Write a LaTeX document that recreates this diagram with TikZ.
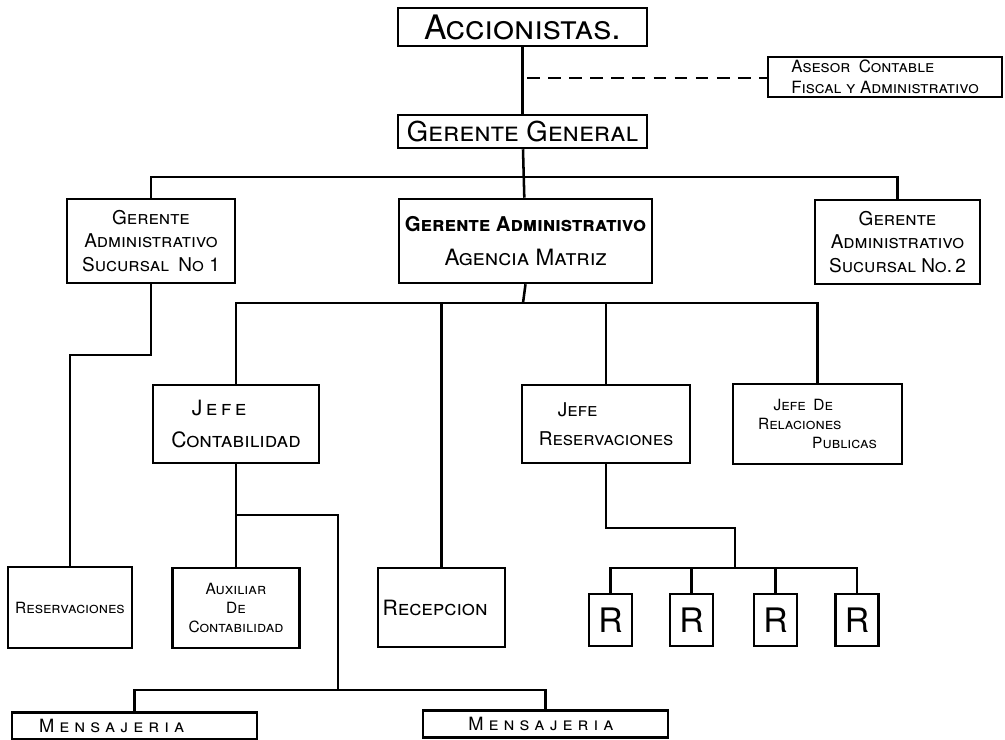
\documentclass[tikz,border=0pt]{standalone}
\usepackage{fontspec}
\setmainfont{TeX Gyre Heros}
\usetikzlibrary{positioning, calc}

\begin{document}
\begin{tikzpicture}[
    x=0.025cm, y=-0.025cm,
    line width=1.8pt,
    box/.style={draw, line width=1.8pt, align=center, inner sep=2pt},
    sz/.style 2 args={minimum width=#1*0.025cm, minimum height=#2*0.025cm},
    txt/.style={/utils/exec={\pgfmathsetmacro\lsk{#1*1.25}},
                font=\fontsize{#1}{\lsk}\selectfont\scshape},
    rbox/.style={box, sz={43}{52}, font=\fontsize{24}{26}\selectfont}
]
    \useasboundingbox (0,0) rectangle (1005,740);

    % Top
    \node[box, sz={249}{38}, txt=24, inner sep=0pt] (acc) at (522.5,27) {Accionistas.};
    \node[box, sz={249}{33}, txt=19.5, inner sep=0pt] (gg) at (522.5,131.5) {Gerente General};
    \node[box, sz={234}{40}, txt=12, align=left, inner sep=1pt] (asesor) at (885,77)
        {Asesor\enspace Contable\\Fiscal y Administrativo};

    % Gerentes administrativos
    \node[box, sz={168}{84}, txt=13.5] (suc1) at (151,241)
        {Gerente\\Administrativo\\Sucursal\enspace No 1};
    \node[box, sz={253}{84}, font=\scshape] (matriz) at (525.5,241)
        {{\fontsize{14.5}{16}\selectfont\bfseries Gerente Administrativo}\\[12pt]
         {\fontsize{16}{18}\selectfont Agencia Matriz}};
    \node[box, sz={165}{84}, txt=13.5] (suc2) at (897.5,242)
        {Gerente\\Administrativo\\Sucursal No.\,2};

    % Jefes
    \node[box, sz={166}{78}, txt=15] (jcont) at (236,424)
        {J\,e\,f\,e\hspace*{1.6em}\\[4pt]Contabilidad};
    \node[box, sz={168}{78}, txt=13.5] (jres) at (606,424)
        {Jefe\hspace*{3em}\\[4pt]Reservaciones};
    \node[box, sz={169}{80}, txt=11, align=left] (jrp) at (817.5,424)
        {\hspace*{1em}Jefe\enspace De\\Relaciones\\\hspace*{3.5em}Publicas};

    % Nivel inferior
    \node[box, sz={124}{81}, txt=11, inner sep=1pt] (reserv) at (70,607.5) {Reservaciones};
    \node[box, sz={127}{80}, txt=11] (aux) at (236,608)
        {Auxiliar\\De\\Contabilidad};
    \node[box, sz={127}{79}, txt=15, inner sep=1pt] (recep) at (441.5,607.5) {Recepcion\hspace*{0.6em}};
    \node[rbox] (r1) at (610.5,620) {R};
    \node[rbox] (r2) at (691.5,620) {R};
    \node[rbox] (r3) at (775.5,620) {R};
    \node[rbox] (r4) at (857,620) {R};
    \node[box, sz={245}{27}, txt=13, inner sep=1pt] (mens1) at (134.5,726)
        {M\;e\;n\;s\;a\;j\;e\;r\;i\;a\hspace*{2.5em}};
    \node[box, sz={245}{27}, txt=13, inner sep=1pt] (mens2) at (545.5,724)
        {M\;e\;n\;s\;a\;j\;e\;r\;i\;a\hspace*{0.5em}};

    % Puntos de union
    \coordinate (busa) at (523,177);
    \coordinate (busb) at (523,303);
    \coordinate (asej) at (527,78);
    \coordinate (sucbend) at (151,355);
    \coordinate (contj) at (236,515);
    \coordinate (mensb) at (338,690);
    \coordinate (resj) at (606,528);
    \coordinate (rbus) at (735,568);

    % Lineas
    \draw (acc) -- (gg);
    \draw[dash pattern=on 9pt off 6pt] (asej) -- (asesor.west |- asej);
    \draw (gg) -- (matriz);
    \draw (suc1.north) |- (busa) -| (suc2.north);
    \draw (matriz.south) -- (busb);
    \draw (jcont.north) |- (busb) -| (jrp.north);
    \draw (jres.north) -- (jres.north |- busb);
    \draw (recep.north) -- (recep.north |- busb);
    \draw (suc1.south) -- (sucbend) -| (reserv.north);
    \draw (jcont.south) -- (contj) -- (aux.north);
    \draw (contj) -| (mensb);
    \draw (mens1.north) |- (mensb) -| (mens2.north);
    \draw (jres.south) |- (resj) -| (rbus);
    \draw (r1.north) |- (rbus) -| (r4.north);
    \draw (r2.north) -- (r2.north |- rbus);
    \draw (r3.north) -- (r3.north |- rbus);
\end{tikzpicture}
\end{document}
